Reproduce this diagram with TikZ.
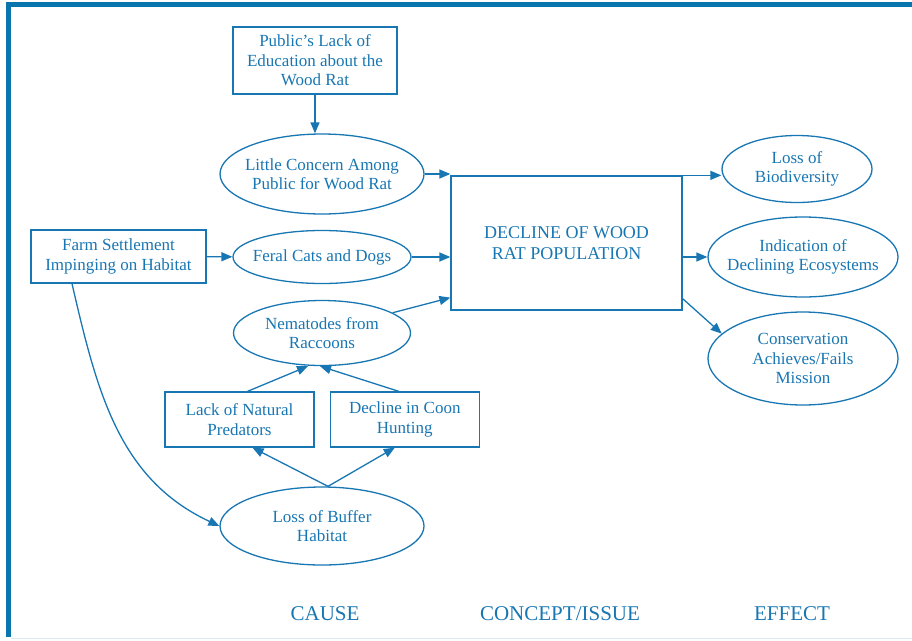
\documentclass[tikz,border=0pt]{standalone}
\usepackage{fontspec}
\setmainfont{Liberation Serif}
\usetikzlibrary{shapes.geometric, arrows.meta, positioning}
\definecolor{ratblue}{RGB}{24,118,178}
\definecolor{frameblue}{RGB}{8,118,172}
\tikzset{
    process/.style={rectangle, draw=ratblue, text=ratblue, align=center, inner sep=0pt, line width=1.3pt, font=\fontsize{17}{19.5}\selectfont},
    oval/.style={ellipse, draw=ratblue, inner sep=0pt, line width=1.3pt},
    ovaltext/.style={text=ratblue, align=center, inner sep=0pt, font=\fontsize{17}{19.5}\selectfont},
    arrow/.style={draw=ratblue, line width=1.3pt, -{Triangle[length=11pt, width=9pt]}},
    heading/.style={text=ratblue, inner sep=0pt, font=\fontsize{21}{24}\selectfont}
}
\begin{document}
\begin{tikzpicture}[x=1pt, y=1pt]
    \useasboundingbox (0,0) rectangle (912,-640);
    % Frame
    \fill[frameblue] (6,-2) rectangle (912,-7);
    \fill[frameblue] (6,-2) rectangle (11,-637);
    \draw[ratblue!15, line width=1.2pt] (11,-638.5) -- (912,-638.5);
    % Nodes
    \node (public) [process, minimum width=164pt, minimum height=67pt] at (315,-60.5) {Public's Lack of\\Education about the\\Wood Rat};
    \node (concern) [oval, minimum width=204pt, minimum height=80pt, label={[ovaltext]center:Little Concern Among\\Public for Wood Rat}] at (322,-174) {};
    \node (farm) [process, minimum width=175pt, minimum height=53pt] at (118.5,-256.5) {Farm Settlement\\Impinging on Habitat};
    \node (feral) [oval, minimum width=178pt, minimum height=53pt, label={[ovaltext]center:Feral Cats and Dogs}] at (322,-257) {};
    \node (nema) [oval, minimum width=177pt, minimum height=65pt, label={[ovaltext]center:Nematodes from\\Raccoons}] at (322,-333) {};
    \node (lack) [process, minimum width=149pt, minimum height=55pt] at (239.5,-419.5) {Lack of Natural\\Predators};
    \node (coon) [process, minimum width=149pt, minimum height=55pt, right=15pt of lack] {Decline in Coon\\Hunting};
    \node (buffer) [oval, minimum width=204pt, minimum height=78pt, label={[ovaltext]center:Loss of Buffer\\Habitat}] at (322,-526) {};
    \node (decline) [process, minimum width=231pt, minimum height=134pt, font=\fontsize{18}{21}\selectfont] at (566.5,-243) {DECLINE OF WOOD\\RAT POPULATION};
    \node (biodiv) [oval, minimum width=150pt, minimum height=67pt, label={[ovaltext]center:Loss of\\Biodiversity}] at (797,-169) {};
    \node (indic) [oval, minimum width=190pt, minimum height=80pt, label={[ovaltext]center:Indication of\\Declining Ecosystems}] at (803,-257) {};
    \node (conserv) [oval, minimum width=190pt, minimum height=93pt, label={[ovaltext]center:Conservation\\Achieves/Fails\\Mission}] at (803,-358.5) {};
    % Column headings
    \node (cause) [heading] at (325,-614) {CAUSE};
    \node (issue) [heading] at (560,-614) {CONCEPT/ISSUE};
    \node (effect) [heading] at (792,-614) {EFFECT};
    % Arrows
    \draw [arrow] (public) -- (public |- concern.north);
    \draw [arrow] (concern) -- (concern -| decline.west);
    \draw [arrow] (farm) -- (feral);
    \draw [arrow] (feral) -- (feral -| decline.west);
    \draw [arrow] (nema.16) -- ([yshift=13pt]decline.south west);
    \draw [arrow] ([xshift=8pt]lack.north) -- ([xshift=-14pt]nema.south);
    \draw [arrow] ([xshift=-6pt]coon.north) -- ([xshift=-2pt]nema.south);
    \draw [arrow] ([xshift=6pt]buffer.north) -- ([xshift=13pt]lack.south);
    \draw [arrow] ([xshift=6pt]buffer.north) -- ([xshift=-10pt]coon.south);
    \draw [arrow] ([xshift=-46.5pt]farm.south) to[out=-77, in=155] (buffer.west);
    \draw [arrow] (decline.north east) -- (decline.north east -| biodiv.west);
    \draw [arrow] (decline.east |- indic) -- (indic);
    \draw [arrow] ([yshift=12pt]decline.south east) -- (conserv.163);
\end{tikzpicture}
\end{document}
